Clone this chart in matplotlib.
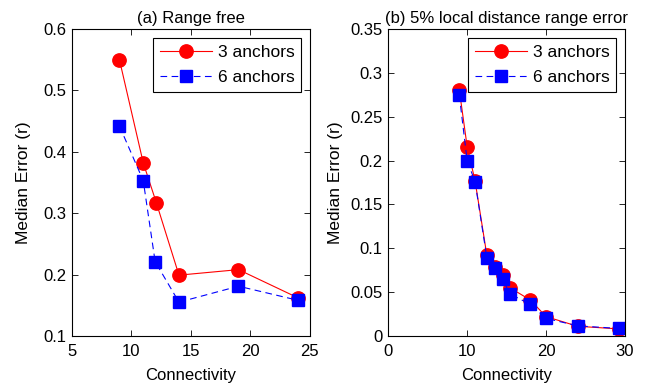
import matplotlib

matplotlib.use("Agg")
import matplotlib.pyplot as plt

plt.rcParams["font.family"] = ["Liberation Sans", "DejaVu Sans"]

# (a) range free
conn_a_3 = [9, 11, 12.1, 14, 19, 24]
err_a_3 = [0.55, 0.382, 0.317, 0.199, 0.208, 0.162]
conn_a_6 = [9, 11, 12, 14, 19, 24]
err_a_6 = [0.442, 0.353, 0.221, 0.155, 0.181, 0.158]

# (b) 5% local distance range error
conn_b = [9, 10, 11, 12.5, 13.5, 14.5, 15.4, 18, 20, 24, 29.2]
err_b_3 = [0.281, 0.216, 0.177, 0.092, 0.079, 0.070, 0.055, 0.041, 0.022, 0.011, 0.008]
err_b_6 = [0.275, 0.200, 0.176, 0.089, 0.078, 0.065, 0.048, 0.036, 0.020, 0.0115, 0.0085]

titles = ["(a) Range free", "(b) 5% local distance range error"]
labels = ["3 anchors", "6 anchors"]

fig = plt.figure(figsize=(6.47, 3.87), dpi=100)
ax1 = fig.add_axes([0.111, 0.132, 0.368, 0.793])
ax2 = fig.add_axes([0.600, 0.132, 0.366, 0.793])


def draw(ax, x3, y3, x6, y6):
    ax.plot(x3, y3, "-", color="red", lw=0.8, marker="o", ms=9.6,
            mfc="red", mec="red", label=labels[0])
    ax.plot(x6, y6, "--", color="blue", lw=0.8, marker="s", ms=8.4,
            mfc="blue", mec="blue", label=labels[1], dashes=(6, 4))
    ax.tick_params(direction="in", top=True, right=True, labelsize=12,
                   length=4, width=0.6)
    ax.tick_params(axis="x", pad=6)
    ax.tick_params(axis="y", pad=4)
    for s in ax.spines.values():
        s.set_linewidth(0.8)
    ax.set_xlabel("Connectivity", fontsize=12, labelpad=6)
    ax.set_ylabel("Median Error (r)", fontsize=12.5, labelpad=9)
    leg = ax.legend(loc="upper right", fontsize=12.5, fancybox=False,
                    edgecolor="black", framealpha=1, handlelength=3.0,
                    handletextpad=0.3, labelspacing=0.6, borderaxespad=0.5)
    leg.get_frame().set_linewidth(0.8)


draw(ax1, conn_a_3, err_a_3, conn_a_6, err_a_6)
ax1.set_xlim(5, 25)
ax1.set_ylim(0.1, 0.6)
ax1.set_xticks([5, 10, 15, 20, 25])
ax1.set_yticks([0.1, 0.2, 0.3, 0.4, 0.5, 0.6])
ax1.set_yticklabels(["0.1", "0.2", "0.3", "0.4", "0.5", "0.6"])
ax1.set_title(titles[0], fontsize=12, pad=4)

draw(ax2, conn_b, err_b_3, conn_b, err_b_6)
ax2.set_xlim(0, 30)
ax2.set_ylim(0, 0.35)
ax2.set_xticks([0, 10, 20, 30])
ax2.set_yticks([0, 0.05, 0.1, 0.15, 0.2, 0.25, 0.3, 0.35])
ax2.set_yticklabels(["0", "0.05", "0.1", "0.15", "0.2", "0.25", "0.3", "0.35"])
ax2.set_ylabel("Median Error (r)", fontsize=12.5, labelpad=5)
ax2.set_title(titles[1], fontsize=12, pad=4)

fig.savefig("out.png", dpi=100)
